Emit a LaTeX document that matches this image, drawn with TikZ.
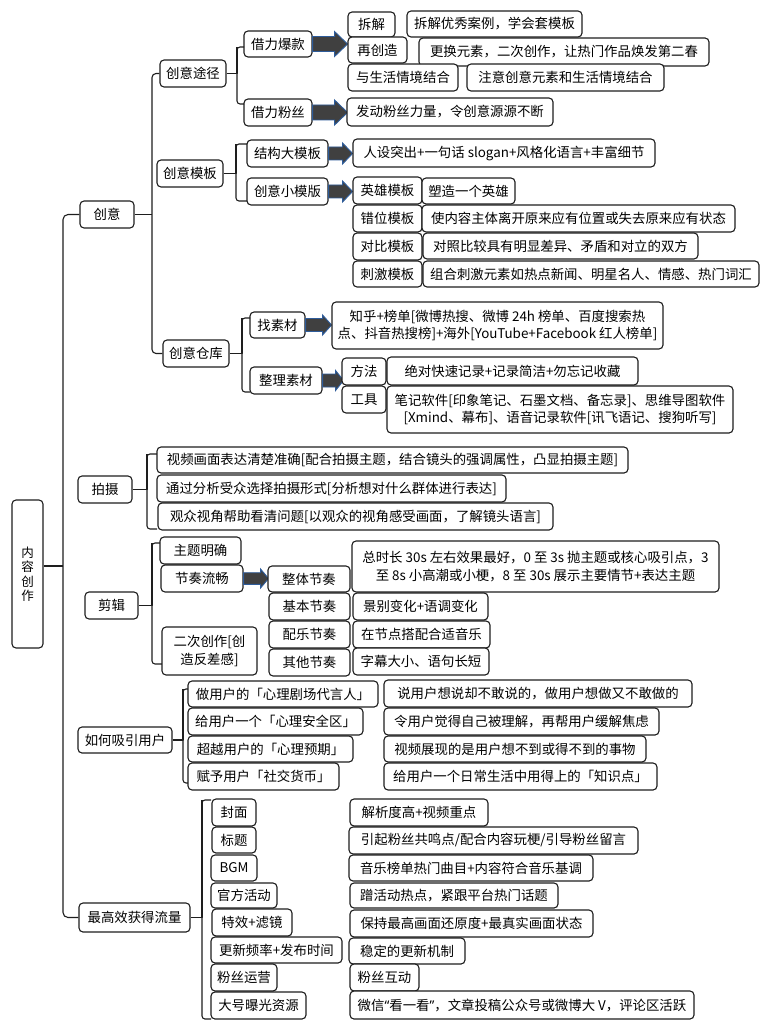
\documentclass[tikz,border=0pt]{standalone}
\usepackage{fontspec}
\setmainfont{Noto Sans CJK SC}
\newfontfamily\latq{Noto Sans}
\usetikzlibrary{calc}
\definecolor{arrgray}{HTML}{404040}
\definecolor{arrblue}{HTML}{2E5C9A}
\definecolor{lnk}{HTML}{1E1E1E}
\tikzset{
 box/.style={draw=lnk, line width=1.1pt, rounded corners=4pt, fill=white, inner sep=1pt, align=center, font=\fontsize{13.4}{17.5}\selectfont},
 conn/.style={draw=lnk, line width=1.1pt, line join=round},
 barrowst/.style={fill=arrgray, draw=arrblue, line width=0.9pt, line join=miter}
}
\newcommand\bx[6]{\node[box,minimum width={(#4-#2)*1pt},minimum height={(#5-#3)*1pt}] (#1) at ({(#2+#4)/2},{(#3+#5)/2}) {#6};}
% arrow: node, length, head length, head half, shaft half
\newcommand\barr[5]{\filldraw[barrowst] (#1.east) ++(0,-#5) -- ++({#2-#3},0) -- ++(0,{-(#4-#5)}) -- ++(#3,#4) -- ++(-#3,#4) -- ++(0,{-(#4-#5)}) -- ++({-(#2-#3)},0) -- cycle;}
% bracket: parent, X, ytop, ybot, tip x top, tip x bottom
\newcommand\brk[6]{\draw[conn,rounded corners=3pt] (#5,#3) -- (#2,#3) -- (#2,#4) -- (#6,#4); \draw[conn] (#1.east) -| (#2,#3);}
\begin{document}
\begin{tikzpicture}[x=1pt,y=-1pt]
\useasboundingbox[fill=white] (0,0) rectangle (768,1024);

\coordinate (mtop) at (63,214.5);
\coordinate (mbot) at (63,917.5);

% ---------- root ----------
\node[box,minimum width=31pt,minimum height=148pt,font=\fontsize{12.5}{14.5}\selectfont] (nrcz) at (27.5,574) {内\\容\\创\\作};

% ---------- level 1 ----------
\bx{cy}{80}{201}{134}{228}{创意}
\bx{ps}{78}{476}{132}{503}{拍摄}
\bx{jj}{85}{592}{138}{619}{剪辑}
\bx{xy}{78}{727}{172}{753}{如何吸引用户}
\bx{ll}{79}{903}{190}{932}{最高效获得流量}

\draw[conn,rounded corners=5pt] (cy.west) -- (mtop) -- (mbot) -- (ll.west);
\draw[conn] ([yshift=8pt]nrcz.east) -- (63,566);

% ---------- 创意 ----------
\bx{cytj}{160}{60}{226}{87}{创意途径}
\bx{cymb}{157}{160}{223}{187}{创意模板}
\bx{cyck}{163}{340}{229}{367}{创意仓库}
\draw[conn,rounded corners=4pt] (cytj.west) -- (152,73.5) -- (152,353.5) -- (cyck.west);
\draw[conn] (cy.east) -- (152,214.5);

% 创意途径
\bx{jlbk}{244}{31}{312}{57}{借力爆款}
\bx{jlfs}{244}{99}{312}{126}{借力粉丝}
\brk{cytj}{237}{47}{104}{244}{244}
\barr{jlbk}{35}{13}{12.5}{7.5}
\barr{jlfs}{35}{13}{12.5}{7.5}
\bx{cj}{348}{12}{395}{37}{拆解}
\bx{cjy}{407}{11}{582}{37}{拆解优秀案例，学会套模板}
\bx{zcz}{348}{37}{407}{63}{再创造}
\bx{ghys}{419}{38}{709}{66}{更换元素，二次创作，让热门作品焕发第二春}
\bx{ysh}{348}{64}{458}{91}{与生活情境结合}
\bx{zy}{467}{64}{664}{91}{注意创意元素和生活情境结合}
\bx{fd}{347}{98}{553}{126}{发动粉丝力量，令创意源源不断}

% 创意模板
\bx{jgdmb}{247}{140}{328}{167}{结构大模板}
\bx{cyxmb}{247}{178}{328}{205}{创意小模版}
\brk{cymb}{236}{144}{201}{247}{247}
\barr{jgdmb}{24}{10}{10.5}{6.5}
\barr{cyxmb}{24}{10}{10.5}{6.5}
\bx{rs}{353}{139}{655}{167}{人设突出+一句话 slogan+风格化语言+丰富细节}
\bx{yx}{353}{177}{422}{204}{英雄模板}
\bx{cw}{353}{205}{422}{232}{错位模板}
\bx{db}{353}{233}{422}{260}{对比模板}
\bx{cjmb}{353}{261}{422}{287}{刺激模板}
\bx{yx2}{422}{178}{515}{204}{塑造一个英雄}
\bx{cw2}{422}{205}{735}{232}{使内容主体离开原来应有位置或失去原来应有状态}
\bx{db2}{423}{233}{698}{259}{对照比较具有明显差异、矛盾和对立的双方}
\bx{cj3}{423}{261}{759}{287}{组合刺激元素如热点新闻、明星名人、情感、热门词汇}

% 创意仓库
\bx{zsc}{250}{312}{305}{338}{找素材}
\bx{zlsc}{250}{367}{322}{394}{整理素材}
\brk{cyck}{242}{318}{392}{250}{250}
\barr{zsc}{26}{9}{10}{6.5}
\barr{zlsc}{21}{8}{10}{6.5}
\bx{zh}{332}{302}{663}{349}{知乎+榜单[微博热搜、微博 24h 榜单、百度搜索热\\点、抖音热搜榜]+海外[YouTube+Facebook 红人榜单]}
\bx{ff}{342}{358}{386}{385}{方法}
\bx{gj}{342}{386}{386}{413}{工具}
\bx{ff2}{387}{357}{638}{385}{绝对快速记录+记录简洁+勿忘记收藏}
\bx{gj2}{387}{386}{733}{433}{笔记软件[印象笔记、石墨文档、备忘录]、思维导图软件\\{}[Xmind、幕布]、语音记录软件[讯飞语记、搜狗听写]}

% ---------- 拍摄 ----------
\brk{ps}{147}{454}{529}{157}{157}
\bx{sp1}{157}{447}{628}{473}{视频画面表达清楚准确[配合拍摄主题，结合镜头的强调属性，凸显拍摄主题]}
\bx{sp2}{157}{475}{506}{502}{通过分析受众选择拍摄形式[分析想对什么群体进行表达]}
\bx{sp3}{158}{503}{553}{530}{观众视角帮助看清问题[以观众的视角感受画面，了解镜头语言]}

% ---------- 剪辑 ----------
\brk{jj}{152}{543}{664}{160}{162}
\bx{ztmq}{160}{537}{241}{564}{主题明确}
\bx{jzlc}{161}{565}{243}{592}{节奏流畅}
\bx{eccz}{162}{627}{257}{675}{二次创作[创\\造反差感]}
\barr{jzlc}{25}{8}{9.5}{5.8}
\bx{ztjz}{268}{566}{350}{592}{整体节奏}
\bx{jbjz}{269}{593}{350}{620}{基本节奏}
\bx{pyjz}{269}{621}{350}{648}{配乐节奏}
\bx{qtjz}{269}{649}{350}{676}{其他节奏}
\bx{zsc2}{352}{541}{719}{592}{总时长 30s 左右效果最好，0 至 3s 抛主题或核心吸引点，3\\至 8s 小高潮或小梗，8 至 30s 展示主要情节+表达主题}
\bx{jb2}{353}{593}{488}{620}{景别变化+语调变化}
\bx{zjd}{353}{621}{490}{648}{在节点搭配合适音乐}
\bx{zm}{353}{648}{489}{675}{字幕大小、语句长短}

% ---------- 如何吸引用户 ----------
\brk{xy}{183}{689}{783}{188}{188}
\bx{u1}{188}{681}{378}{707}{做用户的「心理剧场代言人」}
\bx{u2}{188}{708}{363}{735}{给用户一个「心理安全区」}
\bx{u3}{188}{736}{353}{762}{超越用户的「心理预期」}
\bx{u4}{188}{763}{339}{790}{赋予用户「社交货币」}
\bx{v1}{384}{680}{692}{707}{说用户想说却不敢说的，做用户想做又不敢做的}
\bx{v2}{384}{708}{659}{735}{令用户觉得自己被理解，再帮用户缓解焦虑}
\bx{v3}{384}{736}{646}{762}{视频展现的是用户想不到或得不到的事物}
\bx{v4}{384}{763}{657}{790}{给用户一个日常生活中用得上的「知识点」}

% ---------- 最高效获得流量 ----------
\brk{ll}{202}{800}{1019}{211}{211}
\bx{f1}{212}{799}{256}{826}{封面}
\bx{f2}{212}{827}{256}{853}{标题}
\bx{f3}{211}{855}{257}{881}{BGM}
\bx{f4}{211}{883}{277}{908}{官方活动}
\bx{f5}{212}{909}{292}{936}{特效+滤镜}
\bx{f6}{211}{937}{342}{963}{更新频率+发布时间}
\bx{f7}{211}{964}{277}{991}{粉丝运营}
\bx{f8}{211}{992}{306}{1019}{大号曝光资源}
\bx{g1}{350}{799}{488}{826}{解析度高+视频重点}
\bx{g2}{349}{827}{638}{854}{引起粉丝共鸣点/配合内容玩梗/引导粉丝留言}
\bx{g3}{349}{855}{593}{881}{音乐榜单热门曲目+内容符合音乐基调}
\bx{g4}{350}{883}{558}{908}{蹭活动热点，紧跟平台热门话题}
\bx{g5}{350}{910}{593}{937}{保持最高画面还原度+最真实画面状态}
\bx{g6}{349}{938}{465}{964}{稳定的更新机制}
\bx{g7}{350}{964}{419}{991}{粉丝互动}
\bx{g8}{350}{991}{694}{1019}{微信{\latq “}看一看{\latq ”}，文章投稿公众号或微博大 V，评论区活跃}
\end{tikzpicture}
\end{document}
